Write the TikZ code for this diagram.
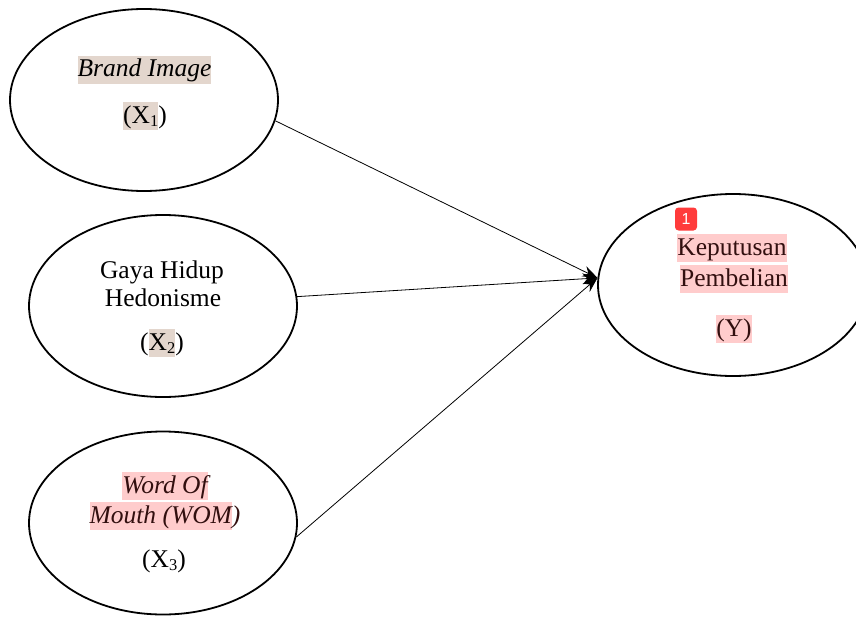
\documentclass[tikz,border=0pt]{standalone}
\usepackage{fontspec}
\setmainfont{Liberation Serif}
\newfontfamily\badgefont{Liberation Sans}
\usetikzlibrary{arrows.meta,shapes.geometric}
\definecolor{tanhl}{RGB}{227,214,205}
\definecolor{pinkhl}{RGB}{255,204,204}
\definecolor{badgered}{RGB}{255,59,59}
\definecolor{maroontext}{RGB}{50,15,15}
\newcommand\hlbox[2]{{\setlength\fboxsep{0pt}\colorbox{#1}{\rule[-0.26em]{0pt}{1.08em}#2}}}
\newcommand\subx[1]{\raisebox{-0.12em}{\fontsize{16.5}{17}\selectfont #1}}
\tikzset{
  latent/.style={draw, line width=1.8pt, ellipse, inner sep=0pt},
  lbl/.style={anchor=base, inner sep=0pt, font=\fontsize{25.5}{30}\selectfont},
  path/.style={line width=0.8pt, -{Stealth[length=15pt,width=11pt]}}
}
\begin{document}
\begin{tikzpicture}[x=1pt,y=-1pt]
\useasboundingbox (0,0) rectangle (856,618);
\clip (0,0) rectangle (856,618);
% latent variables
\node[latent, minimum width=268pt, minimum height=182pt] (e1) at (144,100) {};
\node[latent, minimum width=268pt, minimum height=182pt] (e2) at (163,306) {};
\node[latent, minimum width=268pt, minimum height=183pt] (e3) at (163,523) {};
\node[latent, minimum width=270pt, minimum height=182pt] (e4) at (733,285) {};
% labels
\node[lbl] (t1a) at (144.5,77) {\hlbox{tanhl}{\itshape Brand Image}};
\node[lbl] (t1b) at (145,123) {\hlbox{tanhl}{(X\subx{1}})};
\node[lbl] (t2a) at (162,278) {Gaya Hidup};
\node[lbl] (t2b) at (163,306) {Hedonisme};
\node[lbl] (t2c) at (162,350) {(\hlbox{tanhl}{X\subx{2}})};
\node[lbl, text=maroontext] (t3a) at (165,493) {\hlbox{pinkhl}{\itshape Word Of}};
\node[lbl, text=maroontext] (t3b) at (165,523) {\hlbox{pinkhl}{\itshape Mouth (WOM}{\itshape )}};
\node[lbl] (t3c) at (164,567) {(X\subx{3})};
\node[lbl, text=maroontext] (t4a) at (732,255) {\hlbox{pinkhl}{Keputusan}};
\node[lbl, text=maroontext] (t4b) at (734,286) {\hlbox{pinkhl}{Pembelian}};
\node[lbl, text=maroontext] (t4c) at (734,336) {\hlbox{pinkhl}{(Y)}};
% badge
\node[fill=badgered, rounded corners=3.5pt, minimum width=22pt, minimum height=23pt, inner sep=0pt,
      text=white, font=\badgefont\fontsize{16}{16}\selectfont] (badge) at (686,219) {1};
% paths
\draw[path] (e1.-9) -- (e4.177);
\draw[path] (e2.4) -- (e4.177);
\draw[path] (e3.-6) -- (e4.177);
\end{tikzpicture}
\end{document}
